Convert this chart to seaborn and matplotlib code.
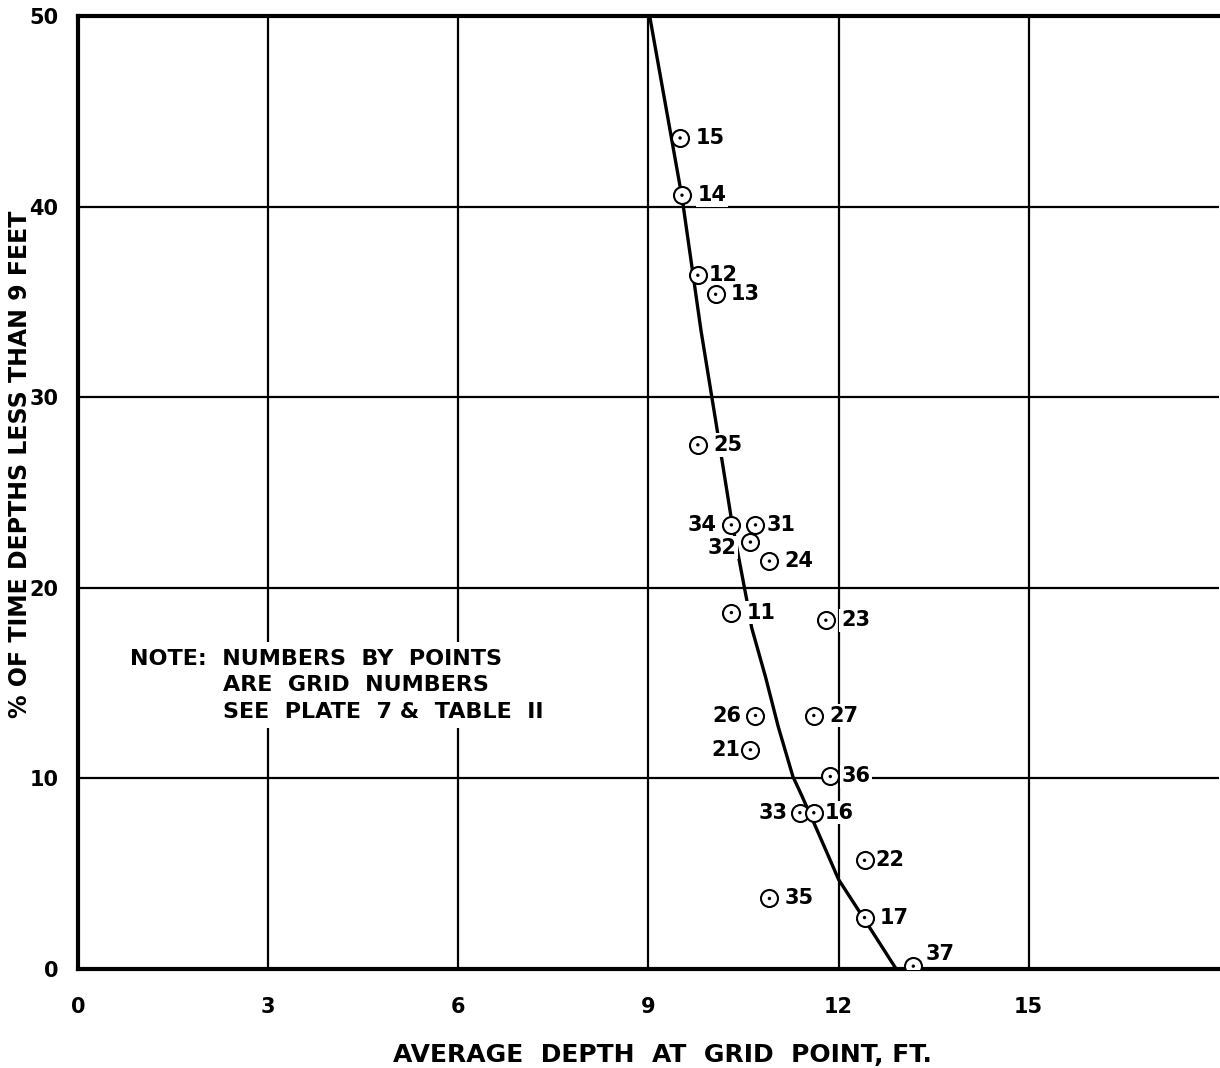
import pandas as pd
import numpy as np
import seaborn as sns
import matplotlib.pyplot as plt

# grid point observations (avg depth ft, % of time depth < 9 ft)
grid_ids = ["15", "14", "12", "13", "25", "34", "31", "32", "24", "11", "23",
            "26", "27", "21", "36", "33", "16", "22", "35", "17", "37"]
avg_depth = [9.50, 9.53, 9.78, 10.06, 9.78, 10.31, 10.69, 10.61, 10.91, 10.31, 11.80,
             10.69, 11.61, 10.61, 11.87, 11.39, 11.61, 12.41, 10.91, 12.41, 13.18]
pct_time = [43.6, 40.6, 36.4, 35.4, 27.5, 23.3, 23.3, 22.4, 21.4, 18.7, 18.3,
            13.3, 13.3, 11.5, 10.1, 8.2, 8.2, 5.7, 3.7, 2.7, 0.15]

# fitted curve
curve_x = [9.02, 9.53, 9.83, 10.06, 10.31, 10.43, 10.55, 10.63, 10.85, 11.05, 11.28,
           11.42, 11.54, 11.66, 11.87, 12.0, 12.39, 12.91]
curve_y = [50.0, 40.5, 33.5, 28.8, 23.6, 21.5, 19.4, 17.9, 15.3, 12.7, 10.1,
           9.1, 8.2, 7.3, 5.7, 4.7, 2.7, 0.0]

x_ticks = [0, 3, 6, 9, 12, 15]
y_ticks = [0, 10, 20, 30, 40, 50]

df = pd.DataFrame({"grid": grid_ids, "depth": avg_depth, "pct": pct_time})
curve = pd.DataFrame({"x": curve_x, "y": curve_y})

sns.set_style("white", {"text.color": "black", "xtick.color": "black",
                        "ytick.color": "black", "axes.labelcolor": "black"})
plt.rcParams['font.family'] = ['DejaVu Sans']

fig = plt.figure(figsize=(12.2, 10.68), dpi=100)
ax = fig.add_axes([78 / 1220, 99 / 1068, 1 - 78 / 1220 - 0.001, 953 / 1068])

for v in x_ticks[1:]:
    ax.axvline(v, color="black", lw=1.6, zorder=1)
for v in y_ticks[1:-1]:
    ax.axhline(v, color="black", lw=1.6, zorder=1)

sns.lineplot(data=curve, x="x", y="y", sort=False, color="black", lw=2.4, ax=ax, zorder=2)
sns.scatterplot(data=df, x="depth", y="pct", s=150, marker="o", facecolor="white",
                edgecolor="black", linewidth=1.5, ax=ax, zorder=4)
sns.scatterplot(data=df, x="depth", y="pct", s=6, color="black", edgecolor="none", ax=ax, zorder=5)

# label placement (offset in points)
left_side = {"34": (-11, 0), "32": (-10, -4), "26": (-10, 0), "21": (-7, 0), "33": (-9, 0)}
special = {"37": (9, 9), "12": (8, 0), "31": (8, 0), "36": (8, 0), "16": (8, 0), "22": (8, 0)}
for g, xv, yv in zip(grid_ids, avg_depth, pct_time):
    if g in left_side:
        off, ha = left_side[g], "right"
    else:
        off, ha = special.get(g, (11, 0)), "left"
    ax.annotate(g, (xv, yv), xytext=off, textcoords="offset points", ha=ha, va="center",
                fontsize=15, fontweight="bold", zorder=3,
                bbox=dict(boxstyle="square,pad=0.08", fc="white", ec="none"))

ax.text(0.82, 16.8, "NOTE:  NUMBERS  BY  POINTS\n            ARE  GRID  NUMBERS\n            SEE  PLATE  7 &  TABLE  II",
        fontsize=16, fontweight="bold", va="top", ha="left", linespacing=1.4, zorder=3,
        bbox=dict(boxstyle="square,pad=0.3", fc="white", ec="none"))

ax.set_xlim(0, 18)
ax.set_ylim(0, 50)
ax.set_xticks(x_ticks)
ax.set_yticks(y_ticks)
ax.set_xticklabels([str(t) for t in x_ticks], fontsize=15, fontweight="bold")
ax.set_yticklabels([str(t) for t in y_ticks], fontsize=15, fontweight="bold")
ax.tick_params(axis="x", length=0, pad=20)
ax.tick_params(axis="y", length=0, pad=14)

ax.set_xlabel("AVERAGE  DEPTH  AT  GRID  POINT, FT.", fontsize=18, fontweight="bold")
ax.xaxis.set_label_coords(0.512, -0.078)
ax.set_ylabel("% OF TIME DEPTHS LESS THAN 9 FEET", fontsize=17, fontweight="bold")
ax.yaxis.set_label_coords(-0.04, 0.53)

for side in ["top", "left", "bottom"]:
    ax.spines[side].set_linewidth(3)
    ax.spines[side].set_color("black")
ax.spines["right"].set_visible(False)

fig.savefig("out.png", dpi=100)
